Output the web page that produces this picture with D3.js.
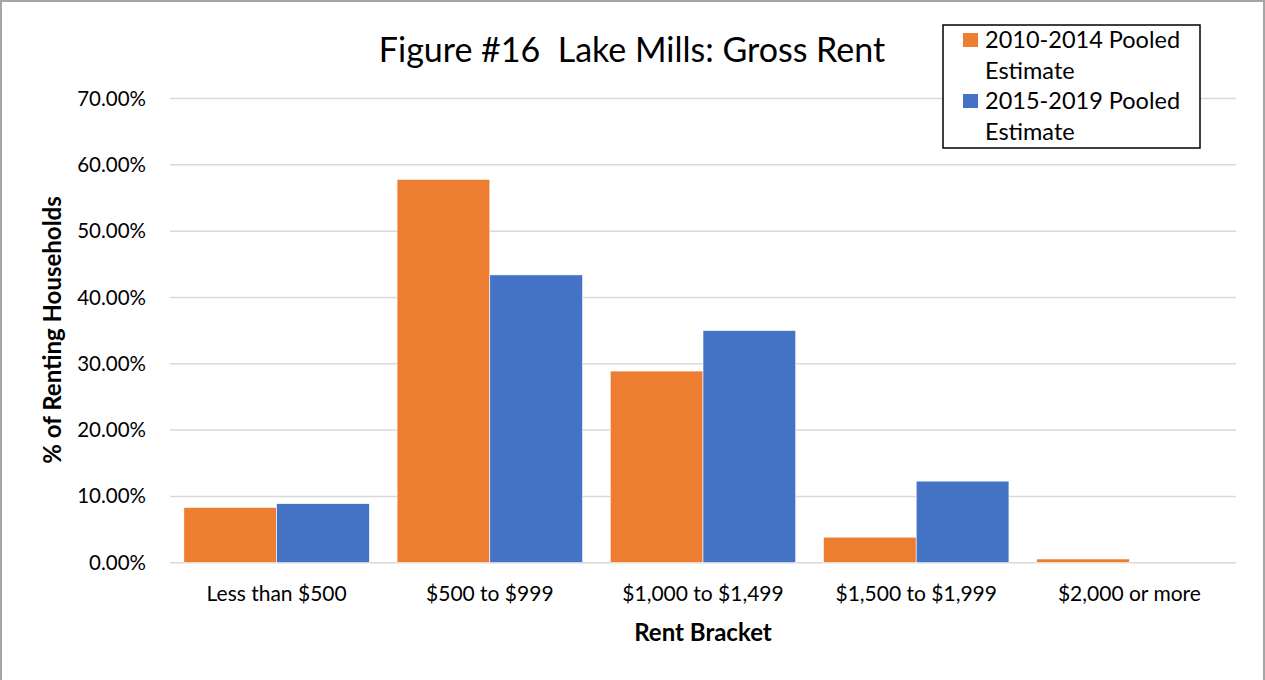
<!DOCTYPE html>
<html>
<head>
<meta charset="utf-8">
<script src="https://cdn.jsdelivr.net/npm/d3@7"></script>
<style>
  body { margin: 0; background: #fff; }
  text { font-family: Lato, "Open Sans", sans-serif; fill: #000; }
</style>
</head>
<body>
<div id="chart"></div>
<script>
// data ---------------------------------------------------
var categories = ["Less than $500", "$500 to $999", "$1,000 to $1,499", "$1,500 to $1,999", "$2,000 or more"];
var seriesNames = ["2010-2014 Pooled Estimate", "2015-2019 Pooled Estimate"];
var values2010 = [0.0833, 0.578, 0.289, 0.0385, 0.0056];
var values2015 = [0.089, 0.434, 0.350, 0.123, 0];
var yTicks = [0, 0.1, 0.2, 0.3, 0.4, 0.5, 0.6, 0.7];
var colors = ["#ED7D31", "#4472C4"];

// layout -------------------------------------------------
var W = 1265, H = 680;
var margin = {top: 98.5, left: 170, right: 29, bottom: 117};

var svg = d3.select("#chart").append("svg")
  .attr("width", W).attr("height", H);

// outer frame
svg.append("rect")
  .attr("x", 1).attr("y", 1).attr("width", W - 2).attr("height", H + 5)
  .attr("fill", "#fff").attr("stroke", "#a6a6a6").attr("stroke-width", 2);

var x0 = d3.scaleBand().domain(categories)
  .range([margin.left, W - margin.right])
  .paddingInner(0.13).paddingOuter(0.065);
var x1 = d3.scaleBand().domain([0, 1]).range([0, x0.bandwidth()]);
var y = d3.scaleLinear().domain([0, 0.7]).range([H - margin.bottom - 0.3, margin.top]);

// gridlines
svg.append("g").selectAll("line").data(yTicks).enter().append("line")
  .attr("x1", margin.left).attr("x2", W - margin.right)
  .attr("y1", function(d){ return y(d); }).attr("y2", function(d){ return y(d); })
  .attr("stroke", "#d9d9d9").attr("stroke-width", 1.5);

// y axis labels
var yAxis = d3.axisLeft(y).tickValues(yTicks).tickSize(0).tickPadding(24)
  .tickFormat(function(d){ return (d * 100).toFixed(2) + "%"; });
var ya = svg.append("g").attr("transform", "translate(" + margin.left + ",0)").call(yAxis);
ya.select(".domain").remove();
ya.selectAll("text").style("font-size", "20.5px").style("font-family", "Lato, sans-serif").attr("fill", "#000");

// bars
var rows = categories.map(function(c, i){ return {cat: c, vals: [values2010[i], values2015[i]]}; });
var groups = svg.append("g").selectAll("g").data(rows).enter().append("g")
  .attr("transform", function(d){ return "translate(" + x0(d.cat) + ",0)"; });
groups.selectAll("rect").data(function(d){ return d.vals; }).enter().append("rect")
  .attr("x", function(d, i){ return x1(i); })
  .attr("width", x1.bandwidth())
  .attr("y", function(d){ return y(d); })
  .attr("height", function(d){ return y(0) - y(d); })
  .attr("fill", function(d, i){ return colors[i]; })
  .attr("stroke", "#fff").attr("stroke-width", 0.6);

// x axis labels
var xAxis = d3.axisBottom(x0).tickSize(0).tickPadding(23);
var xa = svg.append("g").attr("transform", "translate(0," + y(0) + ")").call(xAxis);
xa.select(".domain").remove();
xa.selectAll("text").style("font-size", "21px").style("font-family", "Lato, sans-serif").attr("fill", "#000");

// titles
svg.append("text")
  .attr("x", 632).attr("y", 62).attr("text-anchor", "middle")
  .style("font-size", "34px").style("white-space", "pre")
  .text("Figure #16  Lake Mills: Gross Rent");

svg.append("text")
  .attr("x", (margin.left + W - margin.right) / 2).attr("y", 641)
  .attr("text-anchor", "middle")
  .style("font-size", "24px").style("font-weight", "bold")
  .text("Rent Bracket");

svg.append("text")
  .attr("transform", "translate(61,330) rotate(-90)")
  .attr("text-anchor", "middle")
  .style("font-size", "24px").style("font-weight", "bold")
  .text("% of Renting Households");

// legend
var lg = svg.append("g");
lg.append("rect")
  .attr("x", 943).attr("y", 25).attr("width", 257).attr("height", 123)
  .attr("fill", "#fff").attr("stroke", "#000").attr("stroke-width", 1.5);
seriesNames.forEach(function(name, i){
  var top = 33 + i * 61;
  lg.append("rect").attr("x", 963).attr("y", top).attr("width", 15).attr("height", 14)
    .attr("fill", colors[i]);
  var words = name.split(" ");
  lg.append("text").attr("x", 985).attr("y", top + 15)
    .style("font-size", "23.5px").text(words.slice(0, 2).join(" "));
  lg.append("text").attr("x", 985).attr("y", top + 46)
    .style("font-size", "23.5px").text(words.slice(2).join(" "));
});
</script>
</body>
</html>
